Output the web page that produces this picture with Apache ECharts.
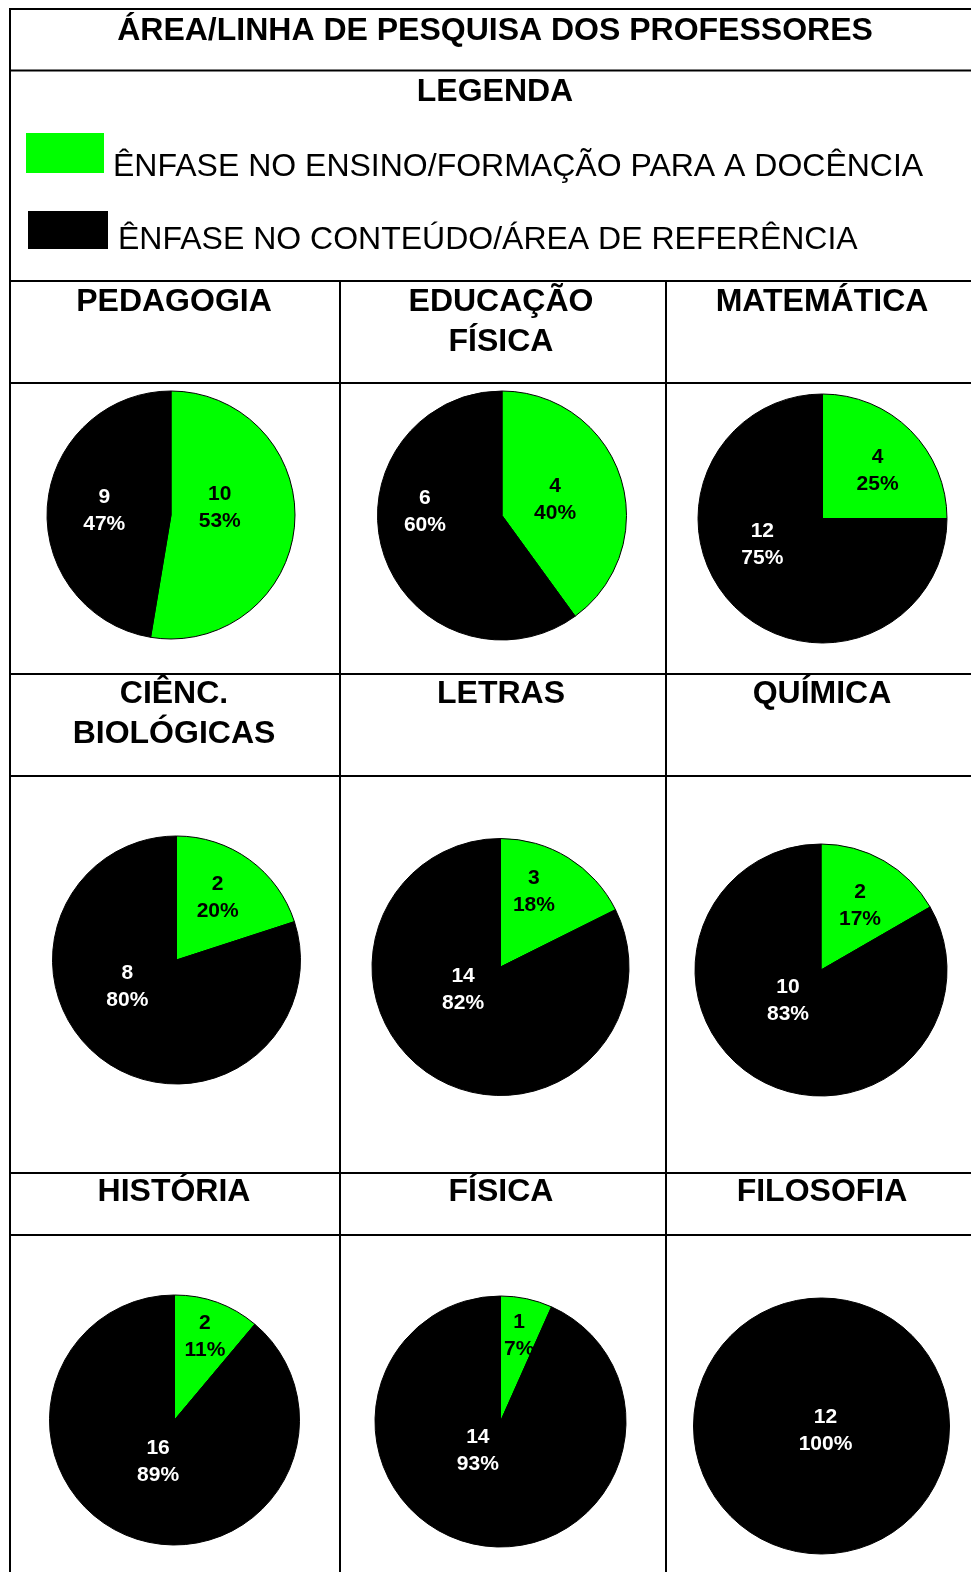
<!DOCTYPE html>
<html>
<head>
<meta charset="utf-8">
<script src="https://cdn.jsdelivr.net/npm/echarts@6/dist/echarts.min.js"></script>
<style>
html,body{margin:0;padding:0;background:#fff;}
#chart{width:971px;height:1572px;}
</style>
</head>
<body>
<div id="chart"></div>
<script>
// ---- data ----
const mainTitle = 'ÁREA/LINHA DE PESQUISA DOS PROFESSORES';
const legendTitle = 'LEGENDA';
const categories = ['ÊNFASE NO ENSINO/FORMAÇÃO PARA A DOCÊNCIA', 'ÊNFASE NO CONTEÚDO/ÁREA DE REFERÊNCIA'];
const areas = ['PEDAGOGIA', 'EDUCAÇÃO\nFÍSICA', 'MATEMÁTICA', 'CIÊNC.\nBIOLÓGICAS', 'LETRAS', 'QUÍMICA', 'HISTÓRIA', 'FÍSICA', 'FILOSOFIA'];
const ensino = [10, 4, 4, 2, 3, 2, 2, 1, 0];
const conteudo = [9, 6, 12, 8, 14, 10, 16, 14, 12];

// ---- layout / style ----
const FONT = '"Liberation Sans", Arial, sans-serif';
const colors = ['#00ff00', '#000000'];
const labelColors = ['#000000', '#ffffff'];
const pieLayout = [
  {c: [171, 515], r: 124},
  {c: [502, 515.5], r: 124.5},
  {c: [822.5, 518.5], r: 124.5},
  {c: [176.5, 960], r: 124},
  {c: [500.5, 967], r: 128.5},
  {c: [821, 970], r: 126},
  {c: [174.5, 1420], r: 125},
  {c: [500.5, 1421.5], r: 125.5},
  {c: [821.5, 1426], r: 128}
];
// label nudges (px) applied to the default inside-label position, per pie: [ensino, conteudo]
const labelNudge = [
  [[-16, -13], [-2, 1]],
  [[-9, 4], [-15, -24]],
  [[9, -2], [-14, -20]],
  [[3, -10], [-11, -26]],
  [[-2, -18], [-2, -34]],
  [[6, -7], [0, -26]],
  [[8, -22], [6, -20]],
  [[5, -21], [-9, -35]],
  [[0, 0], [4, -62]]
];
const headerPos = [
  [174, 302.5], [501, 322.5], [822, 302.5],
  [174, 714.5], [501, 694.5], [822, 694.5],
  [174, 1192.5], [501, 1192.5], [822, 1192.5]
];
const hLines = [9, 70.5, 281, 383, 674, 776, 1173, 1235];
const vLines = [[10, 9], [340, 281], [666, 281]];
const legendIcons = [
  {x: 26, y: 133, w: 78, h: 40, tx: 113, ty: 167},
  {x: 28, y: 211, w: 80, h: 38, tx: 118, ty: 240}
];

const chart = echarts.init(document.getElementById('chart'), null, {renderer: 'canvas'});

const graphics = [];
hLines.forEach(y => graphics.push({
  type: 'line', silent: true,
  shape: {x1: 9, y1: y, x2: 971, y2: y},
  style: {stroke: '#000', lineWidth: 2}
}));
vLines.forEach(v => graphics.push({
  type: 'line', silent: true,
  shape: {x1: v[0], y1: v[1], x2: v[0], y2: 1572},
  style: {stroke: '#000', lineWidth: 2}
}));
graphics.push({
  type: 'text', x: 495, y: 31, silent: true,
  style: {text: mainTitle, font: 'bold 32px ' + FONT, fill: '#000', textAlign: 'center', textVerticalAlign: 'middle'}
});
graphics.push({
  type: 'text', x: 495, y: 92.5, silent: true,
  style: {text: legendTitle, font: 'bold 32px ' + FONT, fill: '#000', textAlign: 'center', textVerticalAlign: 'middle'}
});
categories.forEach((cat, i) => {
  const L = legendIcons[i];
  graphics.push({
    type: 'rect', silent: true,
    shape: {x: L.x, y: L.y, width: L.w, height: L.h},
    style: {fill: colors[i]}
  });
  graphics.push({
    type: 'text', x: L.tx, y: L.ty, silent: true,
    style: {text: cat, font: '32px ' + FONT, fill: '#000', textAlign: 'left', textVerticalAlign: 'middle'}
  });
});
areas.forEach((a, i) => graphics.push({
  type: 'text', x: headerPos[i][0], y: headerPos[i][1], silent: true,
  style: {text: a, font: 'bold 32px ' + FONT, fill: '#000', textAlign: 'center', textVerticalAlign: 'middle', lineHeight: 40}
}));

const series = areas.map((a, i) => ({
  type: 'pie',
  name: a.replace('\n', ' '),
  center: pieLayout[i].c,
  radius: pieLayout[i].r,
  startAngle: 90,
  clockwise: true,
  silent: true,
  animation: false,
  avoidLabelOverlap: false,
  emphasis: {disabled: true},
  itemStyle: {borderColor: '#000', borderWidth: 1},
  label: {
    show: true,
    position: 'inside',
    fontFamily: FONT,
    fontWeight: 'bold',
    fontSize: 21,
    lineHeight: 27,
    formatter: p => p.value ? (p.value + '\n' + Math.round(p.percent) + '%') : ''
  },
  labelLine: {show: false},
  labelLayout: p => ({dx: labelNudge[i][p.dataIndex][0], dy: labelNudge[i][p.dataIndex][1]}),
  data: [
    {name: categories[0], value: ensino[i], itemStyle: {color: colors[0]}, label: {color: labelColors[0]}},
    {name: categories[1], value: conteudo[i], itemStyle: {color: colors[1]}, label: {color: labelColors[1]}}
  ]
}));

chart.setOption({
  backgroundColor: '#ffffff',
  animation: false,
  graphic: graphics,
  series: series
});
</script>
</body>
</html>
